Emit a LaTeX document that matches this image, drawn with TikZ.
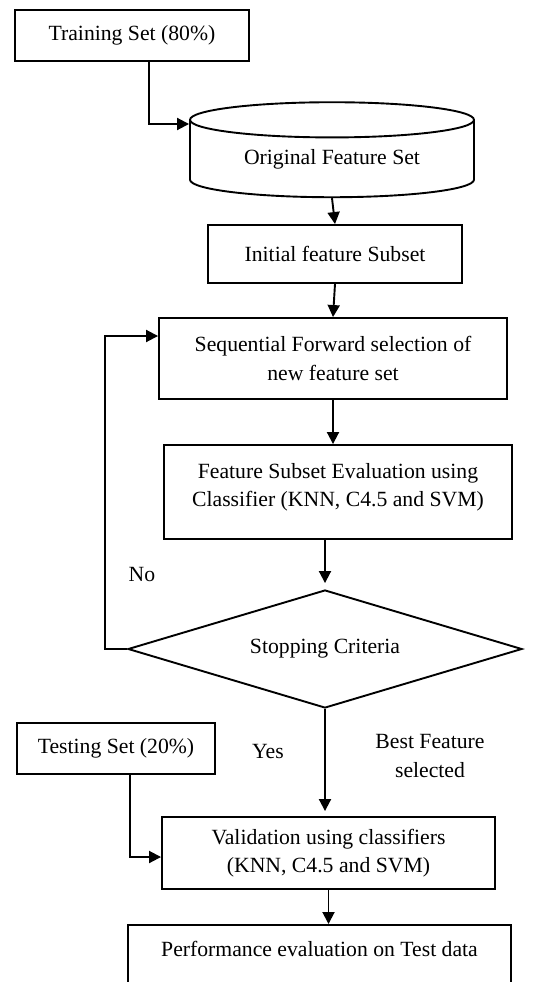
\documentclass[tikz,border=0pt]{standalone}
\usepackage{fontspec}
\setmainfont{Liberation Serif}
\usetikzlibrary{positioning,arrows.meta,shapes.geometric,calc}
\tikzset{
  blk/.style={rectangle,draw,line width=1.9pt,inner sep=0pt,align=center},
  store/.style={cylinder,shape border rotate=90,draw,line width=1.9pt,
                aspect=0.2,inner sep=0pt},
  dec/.style={diamond,draw,line width=1.9pt,inner sep=0pt,aspect=3.3},
  flow/.style={-{Triangle[length=12pt,width=12pt]},line width=1.9pt},
  lbl/.style={inner sep=0pt,align=center},
}
\begin{document}
\begin{tikzpicture}[x=1pt,y=-1pt,font=\fontsize{21.7}{28.5}\selectfont]
\clip (0,0) rectangle (549,982);

% Blocks
\node[blk,minimum width=234pt,minimum height=51pt] (train) at (132,35.5) {Training Set (80\%)};
\node[store,minimum width=284pt,minimum height=95pt] (orig) at (332,159) {Original Feature Set};
\node[blk,minimum width=254pt,minimum height=58pt] (init) at (335,254) {Initial feature Subset};
\node[blk,minimum width=348pt,minimum height=81pt] (seq) at (333,358.5) {Sequential Forward selection of\\new feature set};
\node[blk,minimum width=348pt,minimum height=94pt] (feat) at (338,492) {Feature Subset Evaluation using\\Classifier (KNN, C4.5 and SVM)\\[-14pt]};
\node[dec,minimum width=394pt,minimum height=118pt] (crit) at (325,649) {Stopping Criteria};
\node[blk,minimum width=198pt,minimum height=51pt] (test) at (116,748.5) {Testing Set (20\%)};
\node[blk,minimum width=333pt,minimum height=72pt] (valid) at (328.5,853) {Validation using classifiers\\(KNN, C4.5 and SVM)};
\node[blk,anchor=north,minimum width=383pt,inner ysep=16pt,text depth=45pt] (perf) at (319.5,924) {Performance evaluation on Test data};

% Labels
\node[lbl] (no) at (142,574) {No};
\node[lbl] (yes) at (268,751) {Yes};
\node[lbl] (best) at (430,756) {Best Feature\\selected};

% Connectors
\draw[flow] ([xshift=17pt]train.south) |- ([yshift=35pt]orig.west);
\draw[flow] (orig.south) -- (init.north);
\draw[flow] (init.south) -- (seq.north);
\draw[flow] (seq.south) -- (seq.south |- feat.north);
\draw[flow,shorten >=6pt] (crit.north |- feat.south) -- (crit.north);
\draw[flow] (crit.west) -- ++(-22,0) |- ([yshift=22.5pt]seq.west);
\draw[flow,shorten >=5pt] (crit.south) -- (crit.south |- valid.north);
\draw[flow] ([xshift=14pt]test.south) |- ([yshift=-4pt]valid.west);
\draw[flow] (valid.south) -- (valid.south |- perf.north);
\end{tikzpicture}
\end{document}
